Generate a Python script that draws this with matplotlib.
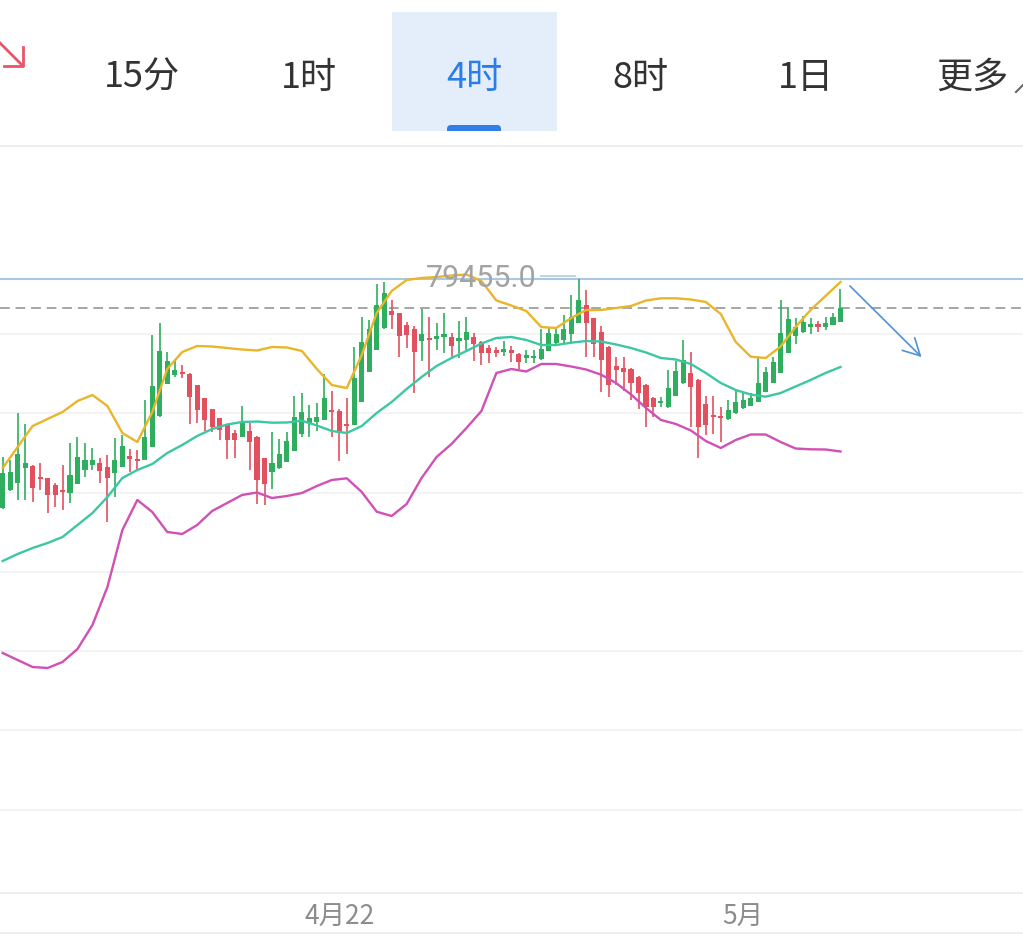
import numpy as np
import matplotlib
matplotlib.use('Agg')
import matplotlib.pyplot as plt
from matplotlib.patches import Rectangle, FancyBboxPatch
from matplotlib.transforms import blended_transform_factory

plt.rcParams['font.family'] = ['Noto Sans CJK SC', 'DejaVu Sans']

# --- data -------------------------------------------------------------
tabs = ['15分', '1时', '4时', '8时', '1日', '更多']
active_tab = '4时'

opens = [77162, 77345, 77418, 77562, 77585, 77478, 77462, 77395, 77345, 77318,
         77405, 77545, 77595, 77612, 77578, 77515, 77578, 77680, 77650, 77645,
         77778, 78082, 78405, 78495, 78525, 78505, 78390, 78262, 78152, 78062,
         77995, 77918, 77878, 77938, 77878, 77662, 77528, 77562, 77628, 77735,
         77905, 78018, 78028, 78045, 78145, 78135, 78005, 77995, 78228, 78528,
         78745, 78962, 79138, 79112, 78995, 78952, 78838, 78868, 78852, 78878,
         78878, 78838, 78845, 78878, 78828, 78762, 78745, 78728, 78745, 78705,
         78662, 78662, 78652, 78738, 78818, 78845, 78905, 79018, 79195, 79062,
         78928, 78778, 78585, 78562, 78552, 78478, 78395, 78262, 78218, 78172,
         78285, 78412, 78518, 78445, 78205, 78095, 78085, 78052, 78112, 78162,
         78185, 78228, 78328, 78418, 78518, 78718, 78885, 78928, 78978, 79005,
         78978, 78995, 79028]
highs = [77678, 77645, 78112, 78002, 77590, 77612, 77468, 77415, 77595, 77810,
         77878, 77810, 77762, 77662, 77695, 77862, 77890, 77750, 77745, 78245,
         78895, 79018, 78728, 78655, 78595, 78515, 78395, 78268, 78158, 78068,
         78000, 77945, 78185, 78012, 77885, 77668, 77922, 77855, 77922, 78280,
         78312, 78195, 78218, 78505, 78335, 78155, 78262, 78778, 79072, 79045,
         79400, 79420, 79245, 79118, 79028, 78985, 79152, 79078, 79018, 79118,
         78912, 79038, 79072, 78918, 78835, 78795, 78778, 78838, 78785, 78712,
         78745, 78745, 78952, 78972, 78962, 79095, 79295, 79455, 79345, 79068,
         78985, 78785, 78672, 78672, 78565, 78485, 78400, 78278, 78278, 78545,
         78638, 78845, 78728, 78450, 78285, 78285, 78172, 78245, 78352, 78328,
         78318, 78662, 78578, 78672, 79245, 79178, 79062, 79085, 79062, 79038,
         79072, 79118, 79352]
lows = [77155, 77335, 77245, 77245, 77228, 77345, 77112, 77178, 77145, 77212,
        77400, 77478, 77545, 77412, 77028, 77278, 77572, 77528, 77540, 77640,
        77772, 78075, 78400, 78475, 78460, 78000, 78012, 77930, 77920, 77845,
        77652, 77662, 77872, 77545, 77208, 77195, 77350, 77555, 77622, 77730,
        77878, 77878, 77938, 78040, 77870, 77638, 77700, 77990, 78222, 78522,
        78740, 78955, 78952, 78672, 78762, 78312, 78638, 78472, 78745, 78712,
        78672, 78662, 78745, 78638, 78595, 78612, 78672, 78685, 78628, 78552,
        78612, 78618, 78645, 78732, 78795, 78818, 78818, 79012, 78672, 78672,
        78328, 78278, 78395, 78338, 78245, 78152, 77972, 78078, 78178, 78165,
        78280, 78405, 77978, 77662, 77895, 77905, 77828, 78045, 78105, 78155,
        78180, 78222, 78322, 78412, 78512, 78712, 78805, 78912, 78905, 78928,
        78945, 78990, 79022]
closes = [77512, 77520, 77702, 77612, 77365, 77450, 77290, 77295, 77328, 77495,
          77678, 77645, 77645, 77535, 77462, 77640, 77780, 77655, 77638, 77870,
          78385, 78738, 78635, 78540, 78505, 78278, 78140, 78045, 77978, 77945,
          77845, 77845, 78012, 77828, 77445, 77400, 77615, 77705, 77835, 78075,
          78128, 78062, 78078, 78262, 78125, 77912, 77982, 78462, 78828, 78952,
          79195, 79312, 79095, 78885, 78895, 78728, 78902, 78848, 78885, 78902,
          78785, 78862, 78928, 78805, 78712, 78712, 78715, 78752, 78712, 78628,
          78695, 78685, 78752, 78918, 78905, 78952, 79078, 79245, 79018, 78805,
          78645, 78395, 78545, 78528, 78412, 78318, 78172, 78172, 78238, 78362,
          78538, 78645, 78378, 77972, 77995, 78072, 78062, 78145, 78228, 78245,
          78262, 78412, 78528, 78628, 78918, 79052, 78972, 79028, 79005, 78978,
          79018, 79078, 79165]

# Bollinger bands, read every 2nd candle
band_step = 2
boll_upper = [77565, 77775, 77985, 78055, 78125, 78235, 78295, 78185, 77915, 77825,
              78125, 78555, 78725, 78785, 78780, 78765, 78750, 78740, 78775, 78770,
              78735, 78555, 78395, 78365, 78695, 79115, 79335, 79445, 79465, 79475,
              79490, 79500, 79435, 79240, 79190, 79135, 78975, 78965, 79065, 79145,
              79145, 79165, 79185, 79240, 79262, 79262, 79250, 79225, 79105, 78825,
              78678, 78665, 78780, 78975, 79145, 79285, 79425]
boll_mid = [76635, 76705, 76765, 76815, 76875, 76995, 77115, 77275, 77465, 77545,
            77605, 77715, 77795, 77885, 77955, 78000, 78025, 78030, 78018, 78020,
            78038, 77990, 77935, 77915, 77985, 78115, 78225, 78355, 78475, 78585,
            78665, 78735, 78810, 78865, 78875, 78845, 78795, 78795, 78818, 78835,
            78830, 78800, 78765, 78720, 78665, 78650, 78605, 78515, 78415, 78345,
            78300, 78278, 78315, 78380, 78445, 78515, 78575]
boll_lower = [75715, 75645, 75575, 75565, 75625, 75755, 75995, 76375, 76945, 77245,
              77125, 76925, 76905, 76995, 77135, 77215, 77295, 77320, 77265, 77285,
              77315, 77385, 77445, 77462, 77325, 77128, 77085, 77205, 77465, 77675,
              77805, 77965, 78135, 78515, 78555, 78530, 78605, 78605, 78580, 78550,
              78498, 78415, 78300, 78165, 78045, 78005, 77940, 77835, 77765, 77845,
              77900, 77900, 77825, 77760, 77752, 77750, 77730]

date_labels = ['4月22', '5月']
date_index = [45, 99]

# hand-drawn trend arrow (candle index, price)
arrow_from = (113.0, 79405)
arrow_to = (123.1, 78655)

# --- style --------------------------------------------------------------
GREEN = '#2fae5f'
RED = '#e2505f'
W, H = 1023, 936

fig = plt.figure(figsize=(W / 100, H / 100), dpi=100)
fig.patch.set_facecolor('white')

# overlay in pixel coords for the app chrome
ov = fig.add_axes([0, 0, 1, 1])
ov.set_xlim(0, W)
ov.set_ylim(H, 0)
ov.axis('off')

ov.add_patch(Rectangle((392, 12), 165, 119, color='#e4eefb', lw=0))
ov.add_patch(FancyBboxPatch((447, 125), 54, 10, boxstyle='round,pad=0,rounding_size=4',
                            color='#2f7fe6', lw=0))
ov.add_patch(Rectangle((440, 131), 70, 10, color='white', lw=0))
tab_x = [142, 309, 474, 640, 806, 972]
for t, x in zip(tabs, tab_x):
    ov.text(x, 88, t, ha='center', va='baseline', fontsize=26,
            color='#2b7de9' if t == active_tab else '#333333')
ov.plot([1016, 1023], [92, 85], color='#666666', lw=1.5)

# red icon top-left
ov.plot([0, 23], [43, 66], color='#e5566a', lw=2)
ov.plot([23, 23, 4], [47, 66, 66], color='#e5566a', lw=2)

for yy in (145.5, 893, 933):
    ov.axhline(yy, color='#eeeeee', lw=1.5)

# chart area
ax = fig.add_axes([0, (H - 893) / H, 1, (893 - 145) / H])
ax.set_xlim(-0.36, 136.4)
ax.set_ylim(73315, 80795)
ax.axis('off')

for lv in np.arange(78905, 74000, -793):
    ax.axhline(lv, color='#f1f1f1', lw=1.2, zorder=0)

o, h, l, c = map(np.array, (opens, highs, lows, closes))
idx = np.arange(len(o))
cols = np.where(c >= o, GREEN, RED)
ax.vlines(idx, l, h, colors=cols, lw=1.2, zorder=3)
body_lo = np.minimum(o, c)
body_h = np.maximum(np.abs(c - o), 20)
ax.bar(idx, body_h, bottom=body_lo, width=0.68, color=cols, lw=0, zorder=3)

bidx = np.arange(0, len(o), band_step)
ax.plot(bidx, boll_upper, color='#e9b52a', lw=1.7, zorder=4)
ax.plot(bidx, boll_mid, color='#3cc7a3', lw=1.7, zorder=4)
ax.plot(bidx, boll_lower, color='#d150b6', lw=1.7, zorder=4)

# max marker line and label
imax = int(np.argmax(h))
hmax = h[imax]
ax.axhline(hmax, color='#a9c9e3', lw=1.5, zorder=2)
ax.plot([imax - 5.0, imax - 0.5], [hmax + 25, hmax + 25], color='#c3d3e3', lw=1.5, zorder=5)
ax.text(imax - 5.6, hmax, f'{hmax:.1f}', ha='right', va='center', fontsize=22,
        family='Roboto', color='#a3a3a3', zorder=5)

# last price dashed line
ax.axhline(c[-1], color='#a5a5a5', lw=1.4, dashes=(5, 3), zorder=2)

ax.annotate('', xy=arrow_to, xytext=arrow_from,
            arrowprops=dict(arrowstyle='->,head_length=0.6,head_width=0.32',
                            color='#4f93d6', lw=1.2, mutation_scale=20), zorder=5)

tr = blended_transform_factory(ax.transData, ov.transData)
for lab, i in zip(date_labels, date_index):
    ax.text(i, 925, lab, transform=tr, ha='center', va='baseline',
            fontsize=19, color='#8c8c8c')

fig.savefig('out.png', dpi=100)
